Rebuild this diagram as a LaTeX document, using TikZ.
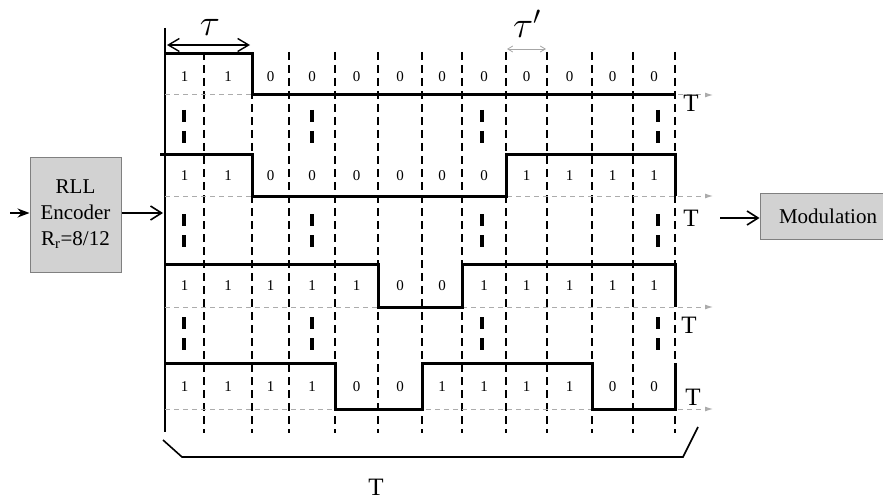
\documentclass[tikz,border=0pt]{standalone}
\usepackage{fontspec}
\setmainfont{Liberation Serif}
\usetikzlibrary{arrows.meta}
\begin{document}
\begin{tikzpicture}[x=1pt,y=-1pt,
  wave/.style={line width=3pt, line join=miter},
  gridline/.style={dash pattern=on 8pt off 5pt, line width=1.4pt},
  baseline/.style={gray!65, dash pattern=on 5pt off 4pt, line width=1pt, -{Latex[length=8pt,width=5pt]}},
  dotbar/.style={line width=3.2pt},
  bit/.style={font=\fontsize{15}{15}\selectfont, inner sep=0pt},
  tlab/.style={font=\fontsize{25}{25}\selectfont, inner sep=0pt},
  taulab/.style={font=\fontsize{24}{24}\selectfont, scale=1.5, inner sep=0pt},
  box/.style={draw=gray, fill=gray!35, line width=1pt, inner sep=0pt, align=center, font=\fontsize{21}{26}\selectfont},
  conn/.style={line width=1.6pt, -{Straight Barb[length=11pt,width=14pt]}}
]
\useasboundingbox (0,0) rectangle (883,500);
\clip (0,0) rectangle (883,500);

% vertical dashed grid
\foreach \x in {204,252,289,335,378,422,462,506,547,592,633,675}
  \draw[gridline] (\x,52) -- (\x,433);
% time axis
\draw[line width=1.6pt] (165,28) -- (165,432);

% grey baselines
\foreach \y in {95,196,307,409}
  \draw[baseline] (165,\y) -- (713,\y);

% waveforms
\draw[wave] (165,54) -- (252,54) -- (252,95) -- (675,95);
\draw[wave] (160,154) -- (252,154) -- (252,196) -- (506,196) -- (506,154) -- (675,154) -- (675,196);
\draw[wave] (165,264) -- (378,264) -- (378,307) -- (462,307) -- (462,264) -- (675,264) -- (675,307);
\draw[wave] (165,363) -- (335,363) -- (335,409) -- (422,409) -- (422,363) -- (592,363) -- (592,409) -- (675,409) -- (675,363);

% bits
\foreach \x [count=\i from 0] in {184.5,228,270.5,312,356.5,400,442,484,526.5,569.5,612.5,654} {
  \pgfmathtruncatemacro\ba{{1,1,0,0,0,0,0,0,0,0,0,0}[\i]}
  \pgfmathtruncatemacro\bb{{1,1,0,0,0,0,0,0,1,1,1,1}[\i]}
  \pgfmathtruncatemacro\bc{{1,1,1,1,1,0,0,1,1,1,1,1}[\i]}
  \pgfmathtruncatemacro\bd{{1,1,1,1,0,0,1,1,1,1,0,0}[\i]}
  \node[bit] (ra\i) at (\x,77) {\ba};
  \node[bit] (rb\i) at (\x,176) {\bb};
  \node[bit] (rc\i) at (\x,286) {\bc};
  \node[bit] (rd\i) at (\x,387) {\bd};
}

% vertical ellipsis bars
\foreach \x in {184,312,482,658}
  \foreach \y in {110,214,317} {
    \draw[dotbar] (\x,\y) -- (\x,\y+12);
    \draw[dotbar] (\x,\y+21) -- (\x,\y+33);
  }

% T labels
\node[tlab] (t1) at (691,103) {T};
\node[tlab] (t2) at (691,218) {T};
\node[tlab] (t3) at (689,325) {T};
\node[tlab] (t4) at (693,397) {T};

% tau labels and arrows
\node[taulab] (tau) at (210,27) {$\tau$};
\coordinate (ta) at (167,45);
\coordinate (tb) at (250,45);
\draw[line width=1.4pt, {Straight Barb[length=11pt,width=13pt]}-{Straight Barb[length=11pt,width=13pt]}] (ta) -- (tb);
\node[taulab] (taup) at (527,24) {$\tau'$};
\coordinate (tpa) at (507,49);
\coordinate (tpb) at (546,49);
\draw[gray!70, line width=0.8pt, {Straight Barb[length=5pt,width=6pt]}-{Straight Barb[length=5pt,width=6pt]}] (tpa) -- (tpb);

% boxes
\node[box, minimum width=91pt, minimum height=115pt] (rll) at (75.5,214.5) {RLL\\Encoder\\R\textsubscript{r}=8/12};
\node[box, minimum width=136pt, minimum height=46pt] (mod) at (828,216) {Modulation};

% connectors
\coordinate (in) at (10,213);
\draw[line width=1.6pt, -{Stealth[length=12pt,width=9pt]}] (in) -- (rll.west |- in);
\coordinate (axin) at (163,213);
\draw[conn] (rll.east |- axin) -- (axin);
\coordinate (modin) at (720,218);
\draw[conn] (modin) -- (mod.west |- modin);

% bottom brace
\draw[line width=1.6pt] (163,440) -- (182,457) -- (683,457) -- (698,427);
\node[tlab] (tbot) at (376,487) {T};
\end{tikzpicture}
\end{document}
